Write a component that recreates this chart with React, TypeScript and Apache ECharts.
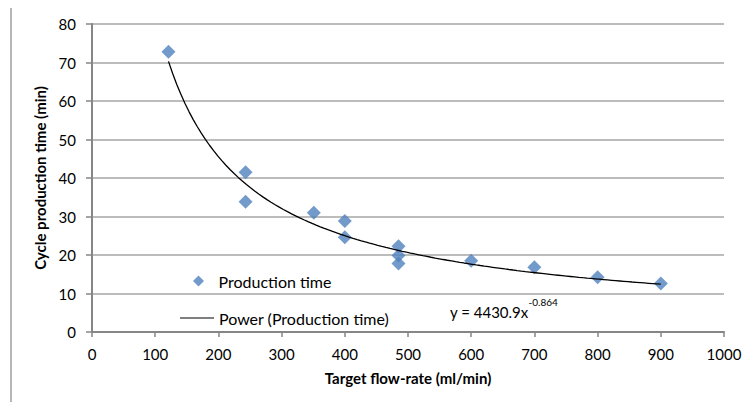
import React, { useEffect, useRef } from "react";
import * as echarts from "echarts";

const flowRate = [121, 243, 243, 351, 400, 400, 485, 485, 485, 600, 700, 800, 900];
const cycleTime = [72.8, 41.5, 33.8, 31.0, 28.8, 24.6, 22.3, 19.9, 17.8, 18.5, 16.8, 14.2, 12.6];
const xTicks = [0, 100, 200, 300, 400, 500, 600, 700, 800, 900, 1000];
const yTicks = [0, 10, 20, 30, 40, 50, 60, 70, 80];
const TREND_A = 4430.9;
const TREND_B = -0.864;
const seriesName = "Production time";
const trendName = "Power (Production time)";
const xTitle = "Target flow-rate (ml/min)";
const yTitle = "Cycle production time (min)";

const FONT = "Lato";

export default function App() {
  const ref = useRef<HTMLDivElement>(null);
  useEffect(() => {
    if (!ref.current) return;
    const chart = echarts.init(ref.current, null, { renderer: "svg" });
    const xMin = Math.min(...flowRate);
    const xMax = Math.max(...flowRate);
    const trend: number[][] = [];
    const steps = 120;
    for (let i = 0; i <= steps; i++) {
      const x = xMin + ((xMax - xMin) * i) / steps;
      trend.push([x, TREND_A * Math.pow(x, TREND_B)]);
    }
    chart.setOption({
      animation: false,
      backgroundColor: "#ffffff",
      textStyle: { fontFamily: FONT },
      grid: { left: 92, right: 27, top: 24, bottom: 78, containLabel: false },
      xAxis: {
        type: "value",
        min: xTicks[0],
        max: xTicks[xTicks.length - 1],
        interval: 100,
        name: xTitle,
        nameLocation: "middle",
        nameGap: 38,
        nameTextStyle: { fontFamily: FONT, fontWeight: "bold", fontSize: 15, color: "#000" },
        axisLine: { show: true, onZero: false, lineStyle: { color: "#868686", width: 2 } },
        axisTick: { show: true, length: 5, lineStyle: { color: "#868686", width: 1.5 } },
        axisLabel: {
          fontFamily: FONT,
          fontSize: 15,
          color: "#000",
          margin: 14,
          formatter: (v: number) => String(v),
        },
        splitLine: { show: false },
      },
      yAxis: {
        type: "value",
        min: yTicks[0],
        max: yTicks[yTicks.length - 1],
        interval: 10,
        name: yTitle,
        nameLocation: "middle",
        nameGap: 41,
        nameTextStyle: { fontFamily: FONT, fontWeight: "bold", fontSize: 15, color: "#000" },
        axisLine: { show: true, onZero: false, lineStyle: { color: "#868686", width: 2 } },
        axisTick: { show: true, length: 6, lineStyle: { color: "#868686", width: 1.5 } },
        axisLabel: { fontFamily: FONT, fontSize: 15, color: "#000", margin: 16 },
        splitLine: { show: true, lineStyle: { color: "#a6a6a6", width: 1.5 } },
      },
      legend: [
        {
          data: [{ name: seriesName, icon: "path://M5,0 L10,5 L5,10 L0,5 Z" }],
          left: 188,
          top: 268,
          itemWidth: 30,
          itemHeight: 11,
          symbolKeepAspect: true,
          textStyle: { fontFamily: FONT, fontSize: 16, color: "#000", lineHeight: 16 },
          selectedMode: false,
        },
        {
          data: [{ name: trendName, icon: "path://M0,0 L34,0 L34,1 L0,1 Z" }],
          left: 175,
          top: 305,
          itemWidth: 34,
          itemHeight: 1.3,
          symbolKeepAspect: true,
          itemStyle: { color: "#000" },
          textStyle: { fontFamily: FONT, fontSize: 16, color: "#000", lineHeight: 16 },
          selectedMode: false,
        },
      ],
      graphic: [
        {
          type: "rect",
          silent: true,
          shape: { x: 11, y: 5, width: 800, height: 500 },
          style: { fill: "none", stroke: "#a0a0a0", lineWidth: 1.5 },
          z: -1,
        },
        {
          type: "text",
          left: 450,
          top: 297,
          style: {
            text: "{m|y = 4430.9x}{s|-0.864}",
            rich: {
              m: { fontFamily: FONT, fontSize: 15, fill: "#000", color: "#000", lineHeight: 22, verticalAlign: "bottom" },
              s: { fontFamily: FONT, fontSize: 10, fill: "#000", color: "#000", lineHeight: 22, verticalAlign: "top" },
            },
          },
        },
      ],
      series: [
        {
          name: seriesName,
          type: "scatter",
          symbol: "diamond",
          symbolSize: 14,
          itemStyle: { color: "#4f81bd" },
          data: flowRate.map((x, i) => [x, cycleTime[i]]),
          z: 3,
        },
        {
          name: trendName,
          type: "line",
          showSymbol: false,
          symbol: "none",
          smooth: false,
          lineStyle: { color: "#000", width: 1.3 },
          itemStyle: { color: "#000" },
          data: trend,
          z: 4,
        },
      ],
    });
    return () => chart.dispose();
  }, []);
  return <div ref={ref} style={{ width: 751, height: 410, margin: -8 }} />;
}
